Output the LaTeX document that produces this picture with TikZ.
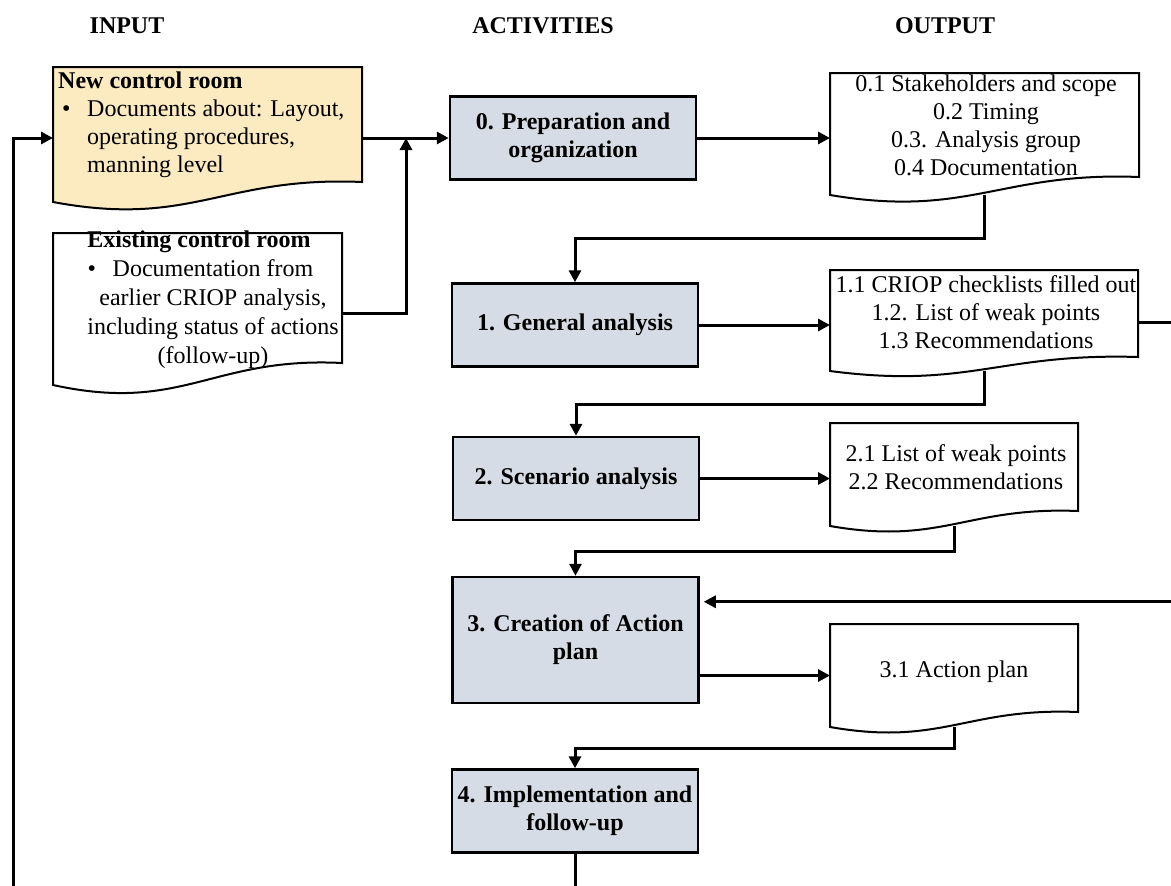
\documentclass[tikz,border=0pt]{standalone}
\usepackage{fontspec}
\setmainfont{Liberation Serif}
\usetikzlibrary{arrows.meta,backgrounds,calc}

\definecolor{actfill}{HTML}{D6DCE5}
\definecolor{inputfill}{HTML}{FCEAC0}

\tikzset{
  x=1pt, y=-1pt,
  every node/.style={font=\fontsize{24}{28}\selectfont},
  colhead/.style={font=\fontsize{24}{28}\selectfont\bfseries, anchor=base, inner sep=0pt},
  actbox/.style={draw, line width=2.5pt, fill=actfill, minimum width=246pt,
    minimum height=83pt, align=center, inner sep=2pt,
    font=\fontsize{24}{28}\selectfont\bfseries},
  docarea/.style={rectangle, anchor=north west, inner sep=0pt, outer sep=0pt},
  doctext/.style={anchor=north, inner sep=0pt, align=center},
  docline/.style={line width=2pt, line join=miter},
  flow/.style={line width=3pt, -{Triangle[length=12pt,width=12pt]}},
}

% document symbol: flat top, wavy bottom edge rising towards the right
% #1 area node, #2 rise of the right corner (pt), #3 fill colour
\newcommand\docoutline[3]{%
  \path[docline, draw, fill=#3] (#1.north west) -- (#1.north east)
    -- ([yshift=#2pt]#1.south east)
    .. controls ($(#1.south west)!0.55!(#1.south east) + (0pt,{1.3*#2*1pt})$)
            and ($(#1.south west)!0.45!(#1.south east) + (0pt,{-1.3*#2*1pt})$)
    .. (#1.south west) -- cycle;}

\begin{document}
\begin{tikzpicture}
\useasboundingbox (0,0) rectangle (1171,886);
\clip (0,0) rectangle (1171,886);

% column headings
\node[colhead] (hin)  at (127,34) {INPUT};
\node[colhead] (hact) at (543,34) {ACTIVITIES};
\node[colhead] (hout) at (945,34) {OUTPUT};

% input documents
\node[docarea, minimum width=309pt, minimum height=135pt] (newdoc) at (53,67) {};
\node[anchor=north west, inner sep=0pt, align=left] (newtext) at (58,68)
  {\rule{0pt}{20pt}\textbf{New control room}\\
   \hspace*{4pt}\makebox[25pt][l]{\textbullet}Documents about: Layout,\\
   \hspace*{29pt}operating procedures,\\
   \hspace*{29pt}manning level};

\node[docarea, minimum width=289pt, minimum height=152pt] (olddoc) at (53,233) {};
\node[doctext, font=\fontsize{24}{29}\selectfont] (oldtext) at (213,227)
  {\rule{0pt}{20pt}\textbf{Existing control room}\hspace*{28pt}\\
   \llap{\makebox[25pt][l]{\textbullet}}Documentation from\\
   earlier CRIOP analysis,\\
   including status of actions\\
   (follow-up)};

% activities
\node[actbox] (box0) at (573,138) {0. Preparation and\\organization};
\node[actbox] (box1) at (575,325) {1. General analysis};
\node[actbox] (box2) at (576,478.5) {2. Scenario analysis};
\node[actbox, minimum height=126pt] (box3) at (575.5,640) {3. Creation of Action\\plan};
\node[actbox] (box4) at (575,811) {4. Implementation and\\follow-up};

% output documents
\node[docarea, minimum width=309pt, minimum height=122pt] (doc0) at (830,73) {};
\node[doctext] (doc0text) at (986,71)
  {\rule{0pt}{20pt}0.1 Stakeholders and scope\\0.2 Timing\\0.3. Analysis group\\0.4 Documentation};

\node[docarea, minimum width=308pt, minimum height=101pt] (doc1) at (830,270) {};
\node[doctext] (doc1text) at (986,272)
  {\rule{0pt}{20pt}1.1 CRIOP checklists filled out\\1.2. List of weak points\\1.3 Recommendations};

\node[docarea, minimum width=248pt, minimum height=103pt] (doc2) at (830,423) {};
\node[doctext] (doc2text) at (956,441)
  {\rule{0pt}{20pt}2.1 List of weak points\\2.2 Recommendations};

\node[docarea, minimum width=248pt, minimum height=103pt] (doc3) at (830,624) {};
\node[doctext] (doc3text) at (954,657) {\rule{0pt}{20pt}3.1 Action plan};

\begin{pgfonlayer}{background}
  \docoutline{newdoc}{20}{inputfill}
  \docoutline{olddoc}{22}{white}
  \docoutline{doc0}{18}{white}
  \docoutline{doc1}{14}{white}
  \docoutline{doc2}{15}{white}
  \docoutline{doc3}{15}{white}
\end{pgfonlayer}

% connectors
\coordinate (join) at (406,138);
\coordinate (ret) at (13,900);

\draw[flow] (newdoc.east |- box0.west) -- (box0.west);
\draw[flow] (olddoc.east |- 0,313) -| (join);
\draw[flow] (box0.east) -- (box0.east -| doc0.west);
\draw[flow] (doc0.south) -- ++(0,43) -| (box1.north);
\draw[flow] (box1.east) -- (box1.east -| doc1.west);
\draw[flow] (doc1.south) -- ++(0,33) -| (box2.north);
\draw[flow] (box2.east) -- (box2.east -| doc2.west);
\draw[flow] (doc2.south) -- ++(0,25) -| (box3.north);
\draw[flow] (box3.east |- doc3.west) -- (doc3.west);
\draw[flow] (doc3.south) -- ++(0,21) -| (box4.north);
\draw[flow, shorten >=4pt] ([yshift=-2pt]doc1.east) -- ++(60,0) |- ([yshift=-26pt]box3.north east);
\draw[flow] (box4.south) |- (ret) |- (newdoc.west |- box0.west);

\end{tikzpicture}
\end{document}
